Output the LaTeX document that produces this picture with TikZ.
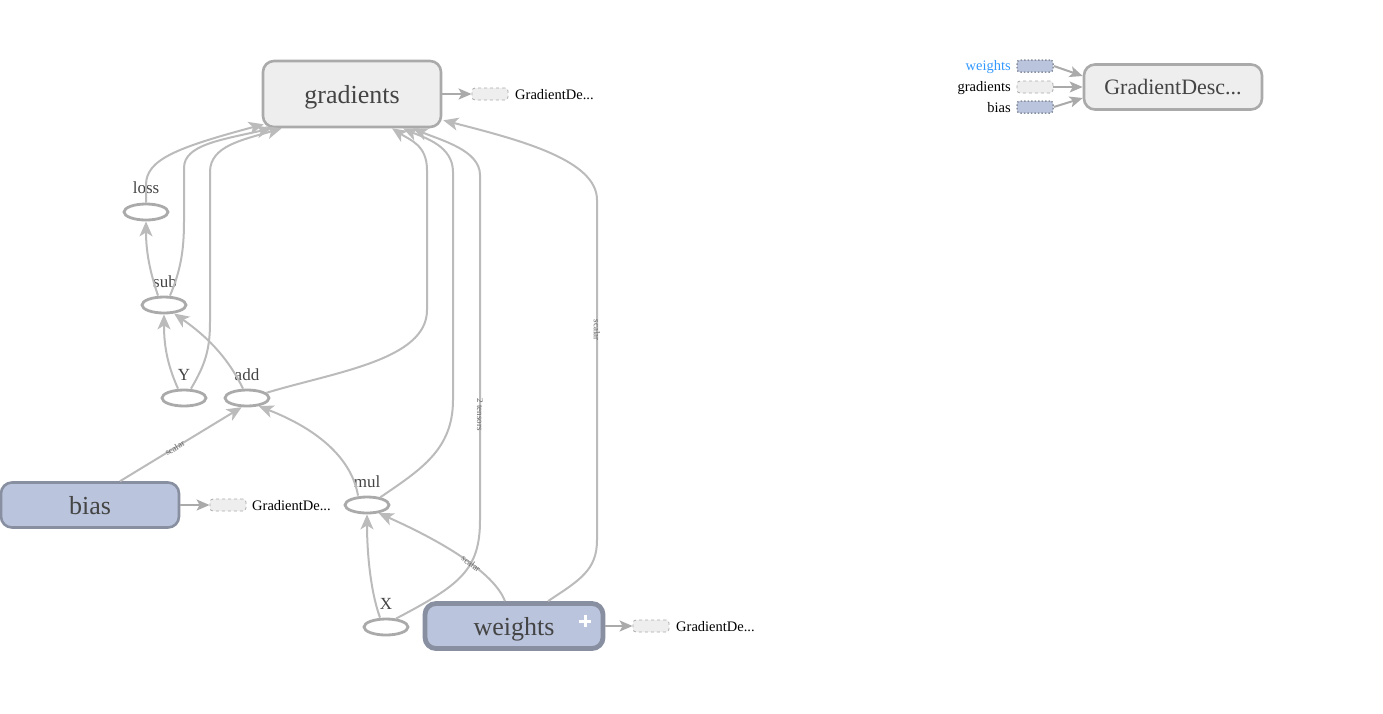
\documentclass[tikz,border=0pt]{standalone}
\usepackage{fontspec}
\setmainfont{Liberation Serif}
\usetikzlibrary{shapes.geometric,arrows.meta}
\definecolor{edgegray}{HTML}{BBBBBB}
\definecolor{boxgray}{HTML}{AAAAAA}
\definecolor{boxfill}{HTML}{EEEEEE}
\definecolor{varfill}{HTML}{BAC4DC}
\definecolor{varline}{HTML}{878FA0}
\definecolor{txt}{HTML}{444444}
\definecolor{linkblue}{HTML}{3399FF}
\tikzset{
  opbox/.style={draw=boxgray, fill=boxfill, line width=2.6pt, rounded corners=11pt,
    minimum width=178pt, minimum height=66pt, inner sep=0pt, text=txt,
    text height=18pt, text depth=0pt, font=\fontsize{26}{26}\selectfont},
  varbox/.style={draw=varline, fill=varfill, line width=2.6pt, rounded corners=11pt,
    minimum width=178pt, minimum height=45pt, inner sep=0pt, text=txt,
    text height=18pt, text depth=0pt, font=\fontsize{26}{26}\selectfont},
  opnode/.style={ellipse, draw=boxgray, line width=2.8pt, minimum width=44pt, minimum height=16pt, inner sep=0pt},
  oplabel/.style={font=\fontsize{17}{17}\selectfont, text=txt, inner sep=0pt},
  stub/.style={draw=boxgray, fill=boxfill, dashed, line width=0.8pt, rounded corners=3pt,
    minimum width=36pt, minimum height=12pt, inner sep=0pt},
  varstub/.style={draw=varline, fill=varfill, dotted, line width=1.5pt, rounded corners=3pt,
    minimum width=36pt, minimum height=12pt, inner sep=0pt},
  stublabel/.style={font=\fontsize{14.5}{14.5}\selectfont, inner sep=0pt},
  flow/.style={draw=edgegray, line width=2pt, -{Stealth[length=15pt,width=13pt,inset=4pt]}},
  link/.style={draw=boxgray, line width=2pt, -{Stealth[length=13pt,width=11pt,inset=3pt]}},
  edgelabel/.style={font=\fontsize{9}{9}\selectfont, text=black!60, inner sep=0.5pt}
}
\begin{document}
\begin{tikzpicture}[x=1pt,y=-1pt]
\useasboundingbox (0,0) rectangle (1383,713);

% main nodes
\node[opbox] (gradients) at (352,94) {gradients};
\node[varbox] (bias) at (90,505) {bias};
\node[varbox, line width=4.8pt] (weights) at (514,626) {weights};
% expand marker on the weights box
\draw[white, line width=3pt] (579,621) -- (591,621) (585,615) -- (585,627);

% operation ellipses with their labels
\node[opnode] (loss) at (146,212) {};
\node[oplabel, anchor=base] (losslbl) at (146,193) {loss};
\node[opnode] (sub) at (164,305) {};
\node[oplabel, anchor=base] (sublbl) at (165,287) {sub};
\node[opnode] (Y) at (184,398) {};
\node[oplabel, anchor=base] (Ylbl) at (184,380) {Y};
\node[opnode] (add) at (247,398) {};
\node[oplabel, anchor=base] (addlbl) at (247,380) {add};
\node[opnode] (mul) at (367,505) {};
\node[oplabel, anchor=base] (mullbl) at (367,487) {mul};
\node[opnode] (X) at (386,627) {};
\node[oplabel, anchor=base] (Xlbl) at (386,609) {X};

% GradientDescent stubs
\node[stub] (gstub) at (490,94) {};
\node[stublabel, anchor=west] (gstublbl) at (515,95) {GradientDe...};
\node[stub] (bstub) at (228,505) {};
\node[stublabel, anchor=west] (bstublbl) at (252,506) {GradientDe...};
\node[stub] (wstub) at (651,626) {};
\node[stublabel, anchor=west] (wstublbl) at (676,627) {GradientDe...};

\draw[link] (gradients.east) -- (gstub.west);
\draw[link] (bias.east) -- (bstub.west);
\draw[link] (weights.east) -- (wstub.west);

% data flow edges
\draw[flow] (loss.north) -- (146,185) .. controls (146,160) and (175,148) .. ([xshift=2pt,yshift=4pt]gradients.south west);
\draw[flow] ([xshift=-6pt]sub.north) .. controls (150,272) and (146,252) .. (loss.south);
\draw[flow] ([xshift=6pt]sub.north) .. controls (180,272) and (184,252) .. (184,222) -- (184,168)
  .. controls (184,145) and (220,140) .. ([xshift=10pt]gradients.south west);
\draw[flow] ([xshift=-6pt]Y.north) .. controls (166,362) and (164,342) .. (sub.south);
\draw[flow] ([xshift=7pt]Y.north) .. controls (205,365) and (210,350) .. (210,322) -- (210,172)
  .. controls (210,146) and (242,140) .. ([xshift=20pt]gradients.south west);
\draw[flow] ([xshift=-4pt]add.north) .. controls (230,362) and (212,340) .. (sub.-40);
\draw[flow] (add.15) .. controls (335,372) and (427,360) .. (427,310) -- (427,170)
  .. controls (427,145) and (410,140) .. ([xshift=40pt]gradients.south);
\draw[flow] ([xshift=30pt]bias.north) -- node[edgelabel, pos=0.45, sloped] (scalarb) {scalar} (add.-120);
\draw[flow] ([xshift=-9pt]mul.north) .. controls (352,460) and (320,430) .. (add.-35);
\draw[flow] (mul.30) .. controls (420,470) and (453,450) .. (453,400) -- (453,172)
  .. controls (453,146) and (425,138) .. ([xshift=51pt]gradients.south);
\draw[flow] ([xshift=-6pt]X.north) .. controls (370,590) and (367,550) .. (mul.south);
\draw[flow] (X.40) .. controls (460,585) and (480,570) .. (480,520) -- (480,400)
  node[edgelabel, pos=0.88, rotate=-90] (tensors) {2 tensors} -- (480,175)
  .. controls (480,150) and (440,140) .. ([xshift=61pt]gradients.south);
\draw[flow] ([xshift=-9pt]weights.north) .. controls (495,575) and (450,545) .. node[edgelabel, pos=0.45, sloped, allow upside down, rotate=180] (scalarw) {scalar} (mul.-35);
\draw[flow] ([xshift=34pt]weights.north) .. controls (580,580) and (597,570) .. (597,540) -- (597,330)
  node[edgelabel, rotate=-90] (scalarv) {scalar} -- (597,200)
  .. controls (597,160) and (520,140) .. ([xshift=1pt,yshift=8pt]gradients.south east);

% GradientDescent node with its inputs
\node[opbox, minimum width=178pt, minimum height=45pt, text height=15pt,
  font=\fontsize{22}{22}\selectfont] (gd) at (1173,87) {GradientDesc...};
\node[varstub] (inw) at (1035,66) {};
\node[stub] (ing) at (1035,87) {};
\node[varstub] (inb) at (1035,107) {};
\node[stublabel, anchor=east, text=linkblue] (inwlbl) at (1011,67) {weights};
\node[stublabel, anchor=east] (inglbl) at (1011,88) {gradients};
\node[stublabel, anchor=east] (inblbl) at (1011,108) {bias};
\draw[link] (inw.east) -- ([yshift=11pt]gd.west);
\draw[link] (ing.east) -- (gd.west);
\draw[link] (inb.east) -- ([yshift=-11pt]gd.west);
\end{tikzpicture}
\end{document}
